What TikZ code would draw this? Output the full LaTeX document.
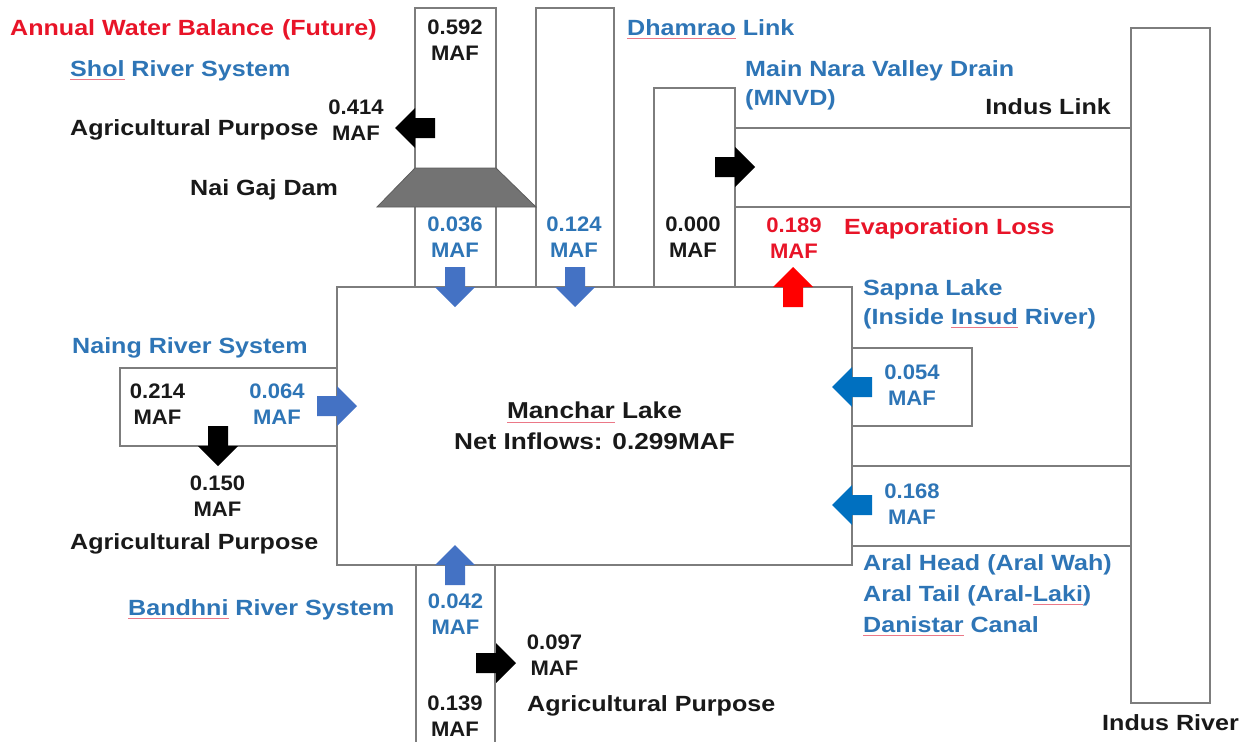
\documentclass[tikz,border=0pt]{standalone}
\usepackage{fontspec}
\setmainfont{Liberation Sans}
\newfontfamily\wordfont{Liberation Sans}[FakeStretch=1.14]
\newfontfamily\numfont{Liberation Sans}[FakeStretch=1.05]
\definecolor{linegray}{RGB}{125,125,125}
\definecolor{txtblue}{RGB}{46,117,182}
\definecolor{arrowblue}{RGB}{68,114,196}
\definecolor{deepblue}{RGB}{0,112,192}
\definecolor{txtred}{RGB}{232,20,40}
\definecolor{arrowred}{RGB}{255,0,0}
\definecolor{damgray}{RGB}{115,115,115}
\definecolor{squig}{RGB}{235,120,135}
% thin spell-check style underline under a word
\newcommand\spellmark[1]{\setbox0\hbox{#1}\rlap{\textcolor{squig}{\rule[-4pt]{\wd0}{0.9pt}}}\box0\relax}
\begin{document}
\begin{tikzpicture}[x=1pt,y=-1pt,
  wall/.style={draw=linegray,line width=1.3pt},
  lbl/.style={font=\wordfont\bfseries\fontsize{22}{30}\selectfont,inner sep=0pt,text=black!90,anchor=base west},
  num/.style={font=\numfont\bfseries\fontsize{21}{26}\selectfont,align=center,inner sep=0pt,text=black!90},
  blockarrow/.pic={\fill (-20,-10) -- (0,-10) -- (0,-20) -- (20,0) -- (0,20) -- (0,10) -- (-20,10) -- cycle;}]
\useasboundingbox (0,0) rectangle (1248,742);

% channels and river
\draw[wall] (415,287) -- (415,8) -- (496,8) -- (496,287);
\draw[wall] (536,287) -- (536,8) -- (614,8) -- (614,287);
\draw[wall] (654,287) -- (654,88) -- (735,88) -- (735,287);
\draw[wall] (735,128) -- (1131,128);
\draw[wall] (735,207) -- (1131,207);
\draw[wall] (1131,28) rectangle (1210,703);
\draw[wall] (852,348) -- (972,348) -- (972,426) -- (852,426);
\draw[wall] (852,466) -- (1131,466);
\draw[wall] (852,546) -- (1131,546);
\draw[wall] (337,368) -- (120,368) -- (120,446) -- (337,446);
\draw[wall] (416,565) -- (416,742);
\draw[wall] (495,565) -- (495,742);

% dam
\filldraw[fill=damgray,draw=damgray!80!black,line width=0.8pt] (415,168) -- (496,168) -- (536,207) -- (377,207) -- cycle;

% lake
\node[wall,minimum width=515pt,minimum height=278pt,inner sep=0pt,align=center,
      font=\wordfont\bfseries\fontsize{23}{31}\selectfont,text=black!90] (lake) at (594.5,426)
      {\spellmark{Manchar} Lake\\Net Inflows: 0.299MAF};

% flow arrows
\pic[color=arrowblue,rotate=-90] at (455,287) {blockarrow};
\pic[color=arrowblue,rotate=-90] at (575,287) {blockarrow};
\pic[color=arrowred,rotate=90] at (793,287) {blockarrow};
\pic[color=black,rotate=180] at (415,128) {blockarrow};
\pic[color=black] at (735,167) {blockarrow};
\pic[color=arrowblue] at (337,406) {blockarrow};
\pic[color=black,rotate=-90] at (218,446) {blockarrow};
\pic[color=deepblue,rotate=180] at (852,387) {blockarrow};
\pic[color=deepblue,rotate=180] at (852,505) {blockarrow};
\pic[color=arrowblue,rotate=90] at (455,565) {blockarrow};
\pic[color=black] at (496,663) {blockarrow};

% labels
\node[lbl,text=txtred] (title) at (10,35) {Annual Water Balance\hspace{8pt}(Future)};
\node[lbl,text=txtblue] (shol) at (70,76) {\spellmark{Shol} River System};
\node[lbl] (agri1) at (70,135) {Agricultural Purpose};
\node[num] (q414) at (356,120) {0.414\\MAF};
\node[lbl] (dam) at (190,195) {Nai Gaj Dam};
\node[num] (q592) at (455,40) {0.592\\MAF};
\node[num,text=txtblue] (q036) at (455,237.5) {0.036\\MAF};
\node[num,text=txtblue] (q124) at (574,237.5) {0.124\\MAF};
\node[num] (q000) at (693,237.5) {0.000\\MAF};
\node[num,text=txtred] (q189) at (794,238.5) {0.189\\MAF};
\node[lbl,text=txtred] (evap) at (844,234) {Evaporation Loss};
\node[lbl,text=txtblue] (dhamrao) at (627,35) {\spellmark{Dhamrao} Link};
\node[lbl,text=txtblue] (mnvd1) at (745,76) {Main Nara Valley Drain};
\node[lbl,text=txtblue] (mnvd2) at (745,105) {(MNVD)};
\node[lbl,anchor=base east] (induslink) at (1111,114) {Indus Link};
\node[lbl,text=txtblue] (sapna1) at (863,295) {Sapna Lake};
\node[lbl,text=txtblue] (sapna2) at (863,324) {(Inside \spellmark{Insud} River)};
\node[num,text=txtblue] (q054) at (912,385) {0.054\\MAF};
\node[num,text=txtblue] (q168) at (912,504) {0.168\\MAF};
\node[lbl,text=txtblue] (aral1) at (863,570) {Aral Head\hspace{7pt}(Aral Wah)};
\node[lbl,text=txtblue] (aral2) at (863,601) {Aral Tail\hspace{7pt}(Aral-\spellmark{Laki})};
\node[lbl,text=txtblue] (aral3) at (863,632) {\spellmark{Danistar} Canal};
\node[lbl] (indusriver) at (1102,730) {Indus River};
\node[lbl,text=txtblue] (naing) at (72,353) {Naing River System};
\node[num] (q214) at (157.5,404) {0.214\\MAF};
\node[num,text=txtblue] (q064) at (277,404) {0.064\\MAF};
\node[num] (q150) at (217.5,496) {0.150\\MAF};
\node[lbl] (agri2) at (70,549) {Agricultural Purpose};
\node[lbl,text=txtblue] (bandhni) at (128,615) {\spellmark{Bandhni} River System};
\node[num,text=txtblue] (q042) at (455.5,614) {0.042\\MAF};
\node[num] (q097) at (554.5,655) {0.097\\MAF};
\node[lbl] (agri3) at (527,711) {Agricultural Purpose};
\node[num] (q139) at (455,716) {0.139\\MAF};
\end{tikzpicture}
\end{document}
